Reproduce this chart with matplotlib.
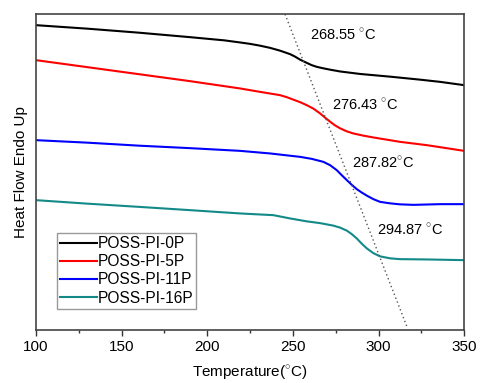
import matplotlib
matplotlib.use("Agg")
import matplotlib.pyplot as plt
from matplotlib.ticker import MultipleLocator

plt.rcParams['font.family'] = ['Liberation Sans', 'DejaVu Sans']
plt.rcParams['mathtext.fontset'] = 'custom'
plt.rcParams['mathtext.rm'] = 'Liberation Sans'

labels = ["POSS-PI-0P", "POSS-PI-5P", "POSS-PI-11P", "POSS-PI-16P"]
colors = ["#000000", "#ff0000", "#0000ff", "#138a88"]

t_0p = [100, 130, 160, 190, 210, 219.2, 225.0, 230.8, 236.7, 242.5, 248.4, 251.3, 254.2, 258.1, 261.0, 264.0, 267.9, 271.7, 277.6, 289.3, 306.8, 324.3, 336.0, 350]
v_0p = [305, 301.5, 297.5, 293, 289.8, 287.7, 286.3, 284.5, 282.3, 279.5, 276, 273.5, 270.5, 267.3, 265, 263.3, 261.8, 260.5, 258.7, 256.2, 253.5, 250.5, 248.3, 245]

t_5p = [100, 130, 160, 190, 219.2, 230.8, 242.5, 246.4, 250.3, 254.2, 258.1, 262.0, 265.9, 268.8, 271.7, 274.6, 277.6, 281.5, 285.3, 291.2, 297.0, 312.6, 328.2, 350]
v_5p = [270, 263, 256, 249, 241.7, 238.3, 235, 233, 230.5, 228, 225, 221.5, 216.7, 212.5, 208.5, 204.8, 201.8, 198.8, 196.7, 194.5, 192.7, 188.3, 185, 179.3]

t_11p = [100, 130, 160, 190, 219.2, 236.7, 254.2, 261.0, 267.8, 271.7, 275.6, 278.5, 281.5, 284.4, 287.3, 290.3, 293.2, 297.0, 300.9, 306.8, 312.6, 320.4, 336.0, 350]
v_11p = [190, 187.5, 184.5, 182, 179.3, 176.7, 173.3, 171.3, 168.3, 165, 160, 155, 150, 145.3, 141, 137.5, 134.5, 131, 128.3, 126.8, 125.8, 125.3, 126, 126]

t_16p = [100, 130, 160, 190, 219.2, 238.6, 248.4, 258.1, 266.0, 273.7, 277.6, 281.5, 284.4, 287.3, 290.2, 293.2, 297.0, 300.9, 306.8, 312.6, 328.2, 350]
v_16p = [130, 126.5, 123.3, 120, 116.7, 115, 111.7, 108.8, 107, 104.5, 102.5, 99.5, 96, 91.7, 86.5, 81.7, 77, 73.8, 71.8, 71, 70.7, 70]

guide_t = [245.4, 316.7]
guide_v = [316, 3]

tg_labels = [r"268.55 $^{\circ}$C", r"276.43 $^{\circ}$C", r"287.82$^{\circ}$C", r"294.87 $^{\circ}$C"]
tg_t = [260.0, 272.9, 284.6, 299.2]
tg_v = [295, 225, 167, 100]

fig = plt.figure(figsize=(4.8, 3.83), dpi=100)
ax = fig.add_axes([0.075, 0.138, 0.892, 0.825])

for t, v, lab, c in zip([t_0p, t_5p, t_11p, t_16p], [v_0p, v_5p, v_11p, v_16p], labels, colors):
    ax.plot(t, v, color=c, lw=1.5, label=lab)

ax.plot(guide_t, guide_v, color="#555555", lw=1.0, ls=(0, (1, 2)))

for s, t, v in zip(tg_labels, tg_t, tg_v):
    ax.text(t, v, s, fontsize=10.5, va='center', ha='left')

ax.set_xlim(100, 350)
ax.set_ylim(0, 316)
ax.xaxis.set_major_locator(MultipleLocator(50))
ax.xaxis.set_minor_locator(MultipleLocator(25))
ax.tick_params(axis='x', which='major', direction='out', length=4, width=1, colors='#333333', labelsize=11, labelcolor='black', pad=3)
ax.tick_params(axis='x', which='minor', direction='out', length=2, width=1, colors='#333333')
ax.set_yticks([])
for sp in ax.spines.values():
    sp.set_color('#444444')
    sp.set_linewidth(1.2)

ax.set_xlabel(r"Temperature($^{\circ}$C)", fontsize=11, labelpad=7)
ax.set_ylabel("Heat Flow Endo Up", fontsize=11, labelpad=6)

leg = ax.legend(loc='upper left', bbox_to_anchor=(0.049, 0.307), borderaxespad=0,
                fontsize=11.2, frameon=True, fancybox=False, edgecolor='#999999',
                handlelength=2.4, handletextpad=0.0, borderpad=0.2, labelspacing=0.2,
                framealpha=1)
leg.get_frame().set_linewidth(1.0)

fig.savefig("out.png", dpi=100)
